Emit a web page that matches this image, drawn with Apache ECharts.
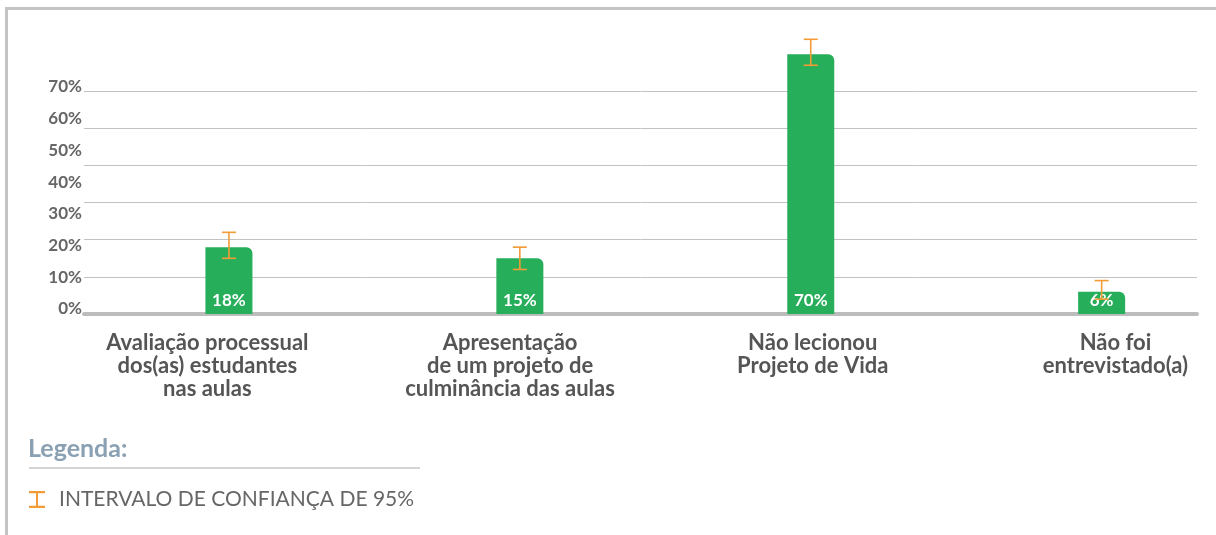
<!DOCTYPE html>
<html>
<head>
<meta charset="utf-8">
<script src="https://cdn.jsdelivr.net/npm/echarts@6/dist/echarts.min.js"></script>
<style>
  html, body { margin: 0; padding: 0; background: #fff; }
  #chart { width: 1216px; height: 535px; }
</style>
</head>
<body>
<div id="chart"></div>
<script>
'use strict';

/*-----Dados-----*/
var categorias = [
	'Avaliação processual\ndos(as) estudantes\nnas aulas',
	'Apresentação\nde um projeto de\nculminância das aulas',
	'Não lecionou\nProjeto de Vida',
	'Não foi\nentrevistado(a)'
];
var valores = [18, 15, 70, 6];
var icMin = [15, 12, 67, 4];
var icMax = [22, 18, 74, 9];
var rotulosY = ['0%', '10%', '20%', '30%', '40%', '50%', '60%', '70%'];
var legendaIC = 'INTERVALO DE CONFIANÇA DE 95%';

var laranja = '#f39b36';
var verde = '#27ae5b';
var fonte = 'Lato, "Open Sans", sans-serif';

var barChart = echarts.init(document.getElementById('chart'));

var option = {
	animation: false,
	textStyle: { fontFamily: fonte },
	title: {
		text: 'Legenda:',
		left: 23,
		top: 431,
		textStyle: { fontFamily: fonte, fontSize: 25, fontWeight: 'bold', color: '#8aa0b3' }
	},
	legend: {
		left: 24,
		top: 484,
		itemWidth: 18,
		itemHeight: 17,
		data: [{ name: legendaIC, icon: 'path://M0,0h16v2.2h-7v12.6h7v2.2h-16v-2.2h7v-12.6h-7z' }],
		textStyle: { fontFamily: fonte, fontSize: 21, color: '#666', padding: [0, 0, 0, 8] }
	},
	grid: [
		// linhas de grade
		{ left: 84, right: 19, top: 91, bottom: 221 },
		// barras
		{ left: 83.5, width: 1163.6, top: 17, bottom: 221, outerBoundsMode: 'none' },
		// rotulos das categorias
		{ left: 56, width: 1210.8, top: 17, bottom: 221, outerBoundsMode: 'none' },
		// rotulos do eixo Y
		{ left: 84, right: 19, top: 87, bottom: 226, outerBoundsMode: 'none' }
	],
	xAxis: [
		{
			gridIndex: 0, type: 'category', data: categorias,
			axisLine: { lineStyle: { color: '#bcbcbc', width: 4 } },
			axisTick: { show: false }, axisLabel: { show: false }
		},
		{
			gridIndex: 1, type: 'category', data: categorias, show: false
		},
		{
			gridIndex: 2, type: 'category', data: categorias,
			axisLine: { show: false }, axisTick: { show: false },
			axisLabel: {
				margin: 17, fontFamily: fonte, fontSize: 22, fontWeight: 'bold',
				lineHeight: 23, color: '#555', interval: 0
			}
		},
		{
			gridIndex: 3, type: 'category', data: categorias, show: false
		}
	],
	yAxis: [
		{
			gridIndex: 0, type: 'value', min: 0, max: 60, interval: 10,
			axisLine: { show: false }, axisTick: { show: false }, axisLabel: { show: false },
			splitLine: { lineStyle: { color: '#c2c2c2', width: 1 } }
		},
		{
			gridIndex: 1, type: 'value', min: 0, max: 80, show: false
		},
		{
			gridIndex: 2, type: 'value', min: 0, max: 80, show: false
		},
		{
			gridIndex: 3, type: 'value', min: 0, max: 70, interval: 10,
			axisLine: { show: false }, axisTick: { show: false }, splitLine: { show: false },
			axisLabel: {
				margin: 2, fontFamily: fonte, fontSize: 17, fontWeight: 'bold', color: '#666',
				formatter: function (v) { return rotulosY[Math.round(v / 10)]; }
			}
		}
	],
	series: [
		{
			name: 'Percentual',
			type: 'bar',
			xAxisIndex: 1,
			yAxisIndex: 1,
			data: valores,
			barWidth: 47,
			itemStyle: { color: verde, borderRadius: [0, 6, 0, 0] },
			label: {
				show: true,
				position: 'insideBottom',
				distance: 5,
				formatter: '{c}%',
				fontFamily: fonte,
				fontSize: 17,
				fontWeight: 'bold',
				color: '#fff'
			},
			z: 3
		},
		{
			name: legendaIC,
			type: 'custom',
			xAxisIndex: 1,
			yAxisIndex: 1,
			itemStyle: { color: laranja },
			data: categorias.map(function (c, i) { return [i, icMin[i], icMax[i]]; }),
			encode: { x: 0, y: [1, 2] },
			renderItem: function (params, api) {
				var lo = api.coord([api.value(0), api.value(1)]);
				var hi = api.coord([api.value(0), api.value(2)]);
				var hw = 7;
				var st = { stroke: laranja, lineWidth: 1.6 };
				return {
					type: 'group',
					children: [
						{ type: 'line', shape: { x1: lo[0], y1: lo[1], x2: hi[0], y2: hi[1] }, style: st },
						{ type: 'line', shape: { x1: lo[0] - hw, y1: lo[1], x2: lo[0] + hw, y2: lo[1] }, style: st },
						{ type: 'line', shape: { x1: hi[0] - hw, y1: hi[1], x2: hi[0] + hw, y2: hi[1] }, style: st }
					]
				};
			},
			z: 5
		}
	],
	graphic: [
		{
			type: 'polyline',
			shape: { points: [[6.5, 535], [6.5, 8.5], [1216, 8.5]] },
			style: { stroke: '#c4c4c4', lineWidth: 3, fill: null }
		},
		{
			type: 'line',
			shape: { x1: 29, y1: 468, x2: 420, y2: 468 },
			style: { stroke: '#a9a9a9', lineWidth: 1 }
		}
	]
};
barChart.setOption(option);
</script>
</body>
</html>
